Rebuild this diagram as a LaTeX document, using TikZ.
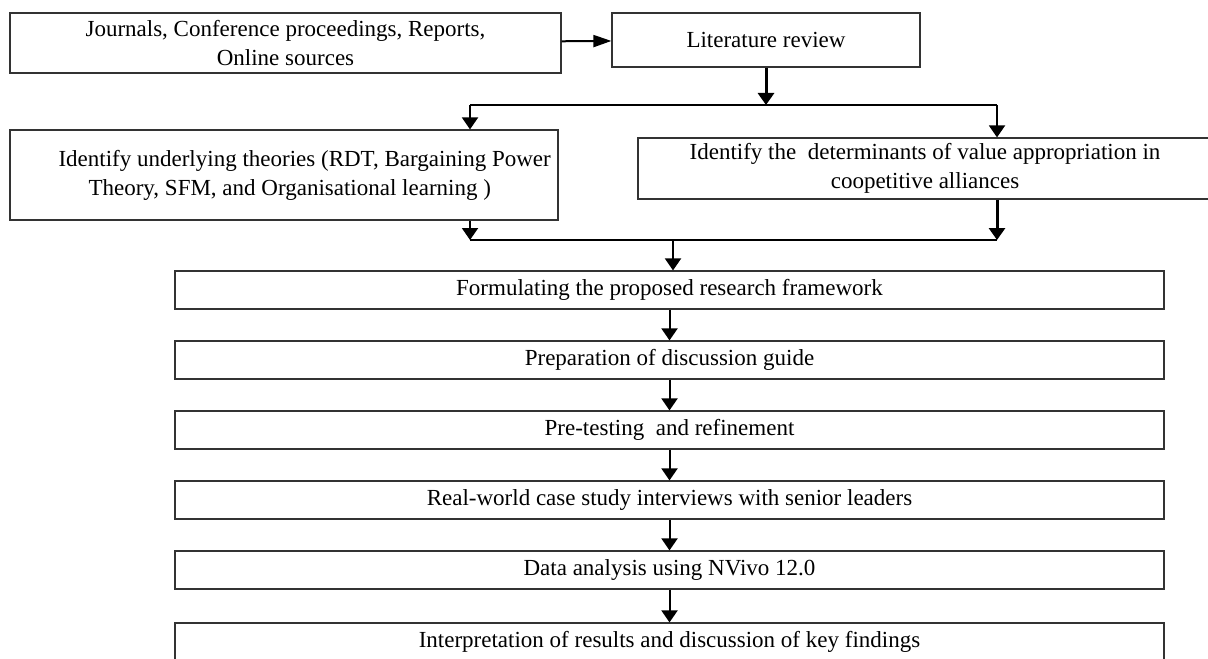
\documentclass[tikz,border=0pt]{standalone}
\usepackage{fontspec}
\setmainfont{Liberation Serif}
\usetikzlibrary{arrows.meta}

\begin{document}
\begin{tikzpicture}[x=0.5pt, y=-0.5pt,
  box/.style={draw=black!80, line width=0.6pt, align=center,
    inner xsep=0.5pt, inner ysep=0pt,
    font=\fontsize{11.5}{14.5}\selectfont},
  link/.style={line width=1pt},
  down/.style={link, -{Triangle[length=6pt, width=8pt]}},
  feed/.style={link, -{Triangle[length=9pt, width=6pt]}}]

\useasboundingbox (0,0) rectangle (1208,658);

% ============================================================
% Top row: sources and literature review
% ============================================================
\node[box, minimum width=275.5pt, minimum height=30pt] (src) at (285.5,43)
  {Journals, Conference proceedings, Reports,\\Online sources};
\node[box, minimum width=154pt, minimum height=27pt] (lit) at (766,40)
  {Literature review};
\draw[feed] (src) -- (lit);

% ============================================================
% Second row: theories and determinants
% ============================================================
\node[box, minimum width=274pt, minimum height=45pt] (theo) at (284,175)
  {\hspace*{1.8em}Identify underlying theories (RDT, Bargaining Power\\
   \hspace*{0.5em}Theory, SFM, and Organisational learning )};
\node[box, minimum width=287pt, minimum height=30.5pt] (det) at (925,168.5)
  {Identify the \ determinants of value appropriation in\\
   coopetitive alliances};

% split below literature review
\coordinate (split)  at (766,105);
\coordinate (splitL) at (470,105);
\coordinate (splitR) at (997,105);
\draw[down, line width=1.5pt] (lit) -- (split);
\draw[link] (splitL) -- (splitR);
\draw[down] (splitL) -- (splitL |- theo.north);
\draw[down] (splitR) -- (splitR |- det.north);

% merge above the framework
\coordinate (mergeL) at (470,240);
\coordinate (mergeR) at (997,240);
\coordinate (merge)  at (673,240);
\draw[down] (theo.south -| mergeL) -- (mergeL);
\draw[down, line width=1.5pt] (det.south -| mergeR) -- (mergeR);
\draw[link] (mergeL) -- (mergeR);

% ============================================================
% Main column
% ============================================================
\node[box, minimum width=494.5pt, minimum height=19pt] (frame) at (669.5,290)
  {Formulating the proposed research framework};
\node[box, minimum width=494.5pt, minimum height=19pt] (guide) at (669.5,360)
  {Preparation of discussion guide};
\node[box, minimum width=494.5pt, minimum height=19pt] (pretest) at (669.5,430)
  {Pre-testing \ and refinement};
\node[box, minimum width=494.5pt, minimum height=19pt] (interview) at (669.5,500)
  {Real-world case study interviews with senior leaders};
\node[box, minimum width=494.5pt, minimum height=19pt] (analysis) at (669.5,570)
  {Data analysis using NVivo 12.0};
\node[box, minimum width=494.5pt, minimum height=19pt] (interp) at (669.5,642)
  {Interpretation of results and discussion of key findings};

\draw[down] (merge) -- (merge |- frame.north);
\draw[down] (frame) -- (guide);
\draw[down] (guide) -- (pretest);
\draw[down] (pretest) -- (interview);
\draw[down] (interview) -- (analysis);
\draw[down] (analysis) -- (interp);

\end{tikzpicture}
\end{document}
